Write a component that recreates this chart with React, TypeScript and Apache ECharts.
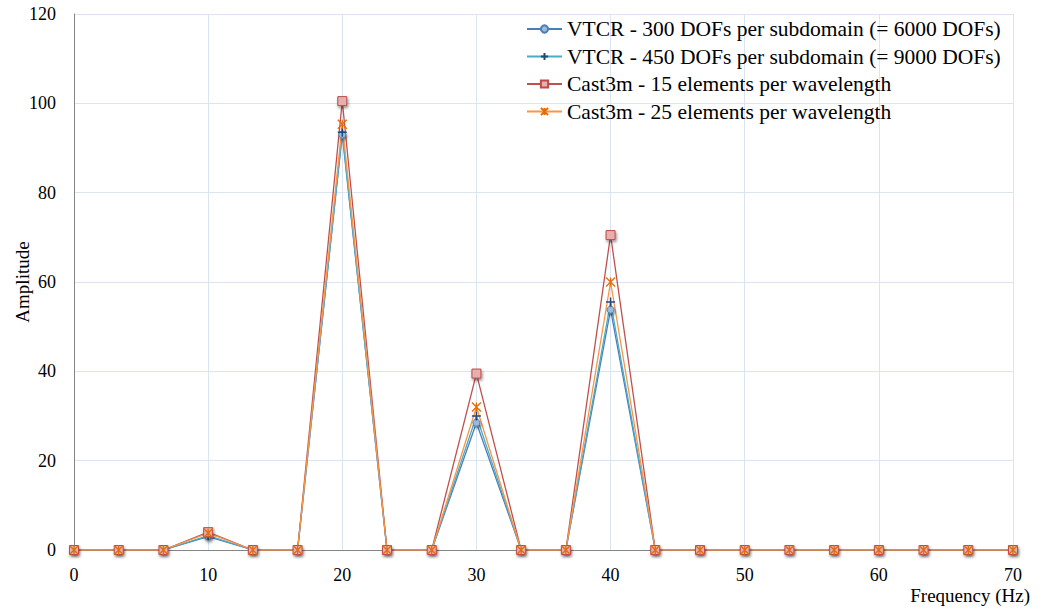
import React, { useEffect, useRef } from "react";
import * as echarts from "echarts";

const frequencies = [0, 3.333, 6.667, 10, 13.333, 16.667, 20, 23.333, 26.667, 30, 33.333, 36.667, 40, 43.333, 46.667, 50, 53.333, 56.667, 60, 63.333, 66.667, 70];
const vtcr300 = [0, 0, 0, 3, 0, 0, 93, 0, 0, 28.5, 0, 0, 53.8, 0, 0, 0, 0, 0, 0, 0, 0, 0];
const vtcr450 = [0, 0, 0, 3.2, 0, 0, 93.5, 0, 0, 30, 0, 0, 55.5, 0, 0, 0, 0, 0, 0, 0, 0, 0];
const cast15 = [0, 0, 0, 4, 0, 0, 100.5, 0, 0, 39.5, 0, 0, 70.5, 0, 0, 0, 0, 0, 0, 0, 0, 0];
const cast25 = [0, 0, 0, 3.8, 0, 0, 95.3, 0, 0, 32, 0, 0, 60, 0, 0, 0, 0, 0, 0, 0, 0, 0];
const seriesNames = [
  "VTCR - 300 DOFs per subdomain (= 6000 DOFs)",
  "VTCR - 450 DOFs per subdomain (= 9000 DOFs)",
  "Cast3m - 15 elements per wavelength",
  "Cast3m - 25 elements per wavelength",
];

const FONT = "'Liberation Serif', 'DejaVu Serif', serif";
const pair = (vals: number[]) => frequencies.map((f, i) => [f, vals[i]]);

const shadow = { shadowBlur: 3, shadowOffsetX: 1, shadowOffsetY: 2, shadowColor: "rgba(0,0,0,0.45)" };

export default function App() {
  const ref = useRef<HTMLDivElement>(null);
  useEffect(() => {
    if (!ref.current) return;
    const chart = echarts.init(ref.current, undefined, { renderer: "svg" });
    chart.setOption({
      animation: false,
      textStyle: { fontFamily: FONT },
      grid: { left: 74, right: 31, top: 14, bottom: 63, containLabel: false, outerBoundsMode: "none" },
      legend: {
        orient: "vertical",
        left: 521,
        top: 13,
        itemWidth: 35,
        itemHeight: 9,
        itemGap: 5.5,
        textStyle: { fontFamily: FONT, fontSize: 21.5, color: "#000" },
        data: seriesNames,
      },
      xAxis: {
        type: "value",
        min: 0,
        max: 70,
        interval: 10,
        name: "Frequency (Hz)",
        nameLocation: "end",
        nameGap: 17,
        nameMoveOverlap: false,
        nameTextStyle: { fontFamily: FONT, fontSize: 19, color: "#000", align: "right", verticalAlign: "top", padding: [36, 0, 0, 0] },
        axisLine: { show: true, lineStyle: { color: "#868686", width: 1 } },
        axisTick: { show: false },
        axisLabel: { fontFamily: FONT, fontSize: 18, color: "#000", margin: 16 },
        splitLine: { show: true, lineStyle: { color: "#dbe5f1", width: 1 } },
      },
      yAxis: {
        type: "value",
        min: 0,
        max: 120,
        interval: 20,
        name: "Amplitude",
        nameLocation: "middle",
        nameGap: 42,
        nameMoveOverlap: false,
        nameTextStyle: { fontFamily: FONT, fontSize: 19, color: "#000" },
        axisLine: { show: true, lineStyle: { color: "#868686", width: 1 } },
        axisTick: { show: false },
        axisLabel: { fontFamily: FONT, fontSize: 18, color: "#000", margin: 18 },
        splitLine: { show: true, lineStyle: { color: "#dbe5f1", width: 1 } },
      },
      series: [
        {
          name: seriesNames[0],
          type: "line",
          data: pair(vtcr300),
          symbol: "circle",
          symbolSize: 7,
          lineStyle: { color: "#4a7ebb", width: 1.3 },
          itemStyle: { color: "#9bbbd9", borderColor: "#4a7ebb", borderWidth: 1, ...shadow },
        },
        {
          name: seriesNames[1],
          type: "line",
          data: pair(vtcr450),
          symbol: "path://M0,-1L0,1M-1,0L1,0",
          symbolSize: 9,
          lineStyle: { color: "#4bacc6", width: 1.3 },
          itemStyle: { color: "#1f497d", borderColor: "#1f497d", borderWidth: 1.5 },
        },
        {
          name: seriesNames[2],
          type: "line",
          data: pair(cast15),
          symbol: "rect",
          symbolSize: 9,
          lineStyle: { color: "#c0504d", width: 1.3 },
          itemStyle: { color: "#e6b0ae", borderColor: "#be4b48", borderWidth: 1, ...shadow },
        },
        {
          name: seriesNames[3],
          type: "line",
          data: pair(cast25),
          symbol: "path://M-1,-1L1,1M-1,1L1,-1M0,-1L0,1",
          symbolSize: 9,
          lineStyle: { color: "#f79646", width: 1.3 },
          itemStyle: { color: "#e46c0a", borderColor: "#e46c0a", borderWidth: 1.3 },
        },
      ],
    });
    return () => chart.dispose();
  }, []);
  return <div ref={ref} style={{ width: 1044, height: 613, position: "absolute", left: 0, top: 0, background: "#fff" }} />;
}
